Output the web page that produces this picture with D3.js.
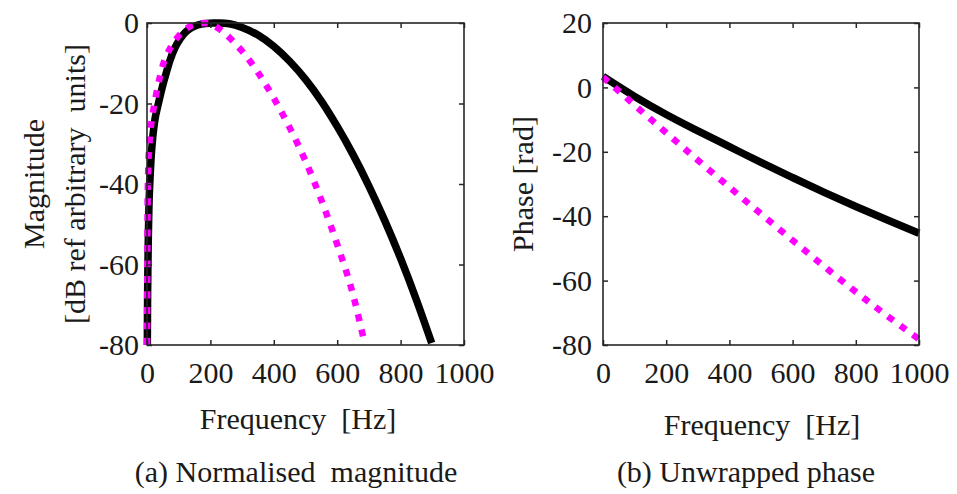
<!DOCTYPE html>
<html>
<head>
<meta charset="utf-8">
<script src="https://cdn.jsdelivr.net/npm/d3@7"></script>
<style>
  html, body { margin: 0; padding: 0; background: #fff; }
  svg { display: block; }
  text { font-family: "Liberation Serif", "Times New Roman", serif; fill: #1a1a1a; white-space: pre; }
</style>
</head>
<body>
<svg id="fig" width="957" height="494"></svg>
<script>
// Frequency axis (Hz) and tick labels shared by both panels
const freqTicks = [0, 200, 400, 600, 800, 1000];
const magTicks = [0, -20, -40, -60, -80];
const phaseTicks = [20, 0, -20, -40, -60, -80];

// Normalised magnitude (dB), [frequency Hz, level dB]
const magBlack = [
  [1, -80], [1.5, -73], [2, -67], [3, -60], [4, -54], [6, -46], [9, -39.5],
  [13, -33.5], [18, -28.5], [25, -24], [33, -21], [41, -18.3], [50, -15.4],
  [60, -12.6], [72, -9.4], [88, -6.2], [105, -3.9], [120, -2.4], [140, -1.2],
  [160, -0.5], [185, -0.1], [210, 0], [230, 0], [260, -0.2], [300, -1.1],
  [350, -3.0], [400, -5.8], [450, -9.5], [500, -14], [550, -19.4],
  [600, -25.7], [650, -32.7], [700, -40.5], [750, -49.1], [800, -58.5],
  [850, -68.8], [898, -79.5]
];
const magMagenta = [
  [0.3, -80], [0.6, -68], [1, -58], [2, -45], [4, -36], [7, -31], [10, -27.5],
  [14, -24.5], [19, -22], [25, -19.4], [30, -17.3], [40, -13.6], [50, -10.5],
  [62, -8], [75, -6], [88, -4.4], [100, -3.2], [115, -2], [130, -1.1],
  [145, -0.5], [160, -0.2], [180, 0], [195, -0.15], [210, -0.6], [225, -1.3],
  [240, -2.2], [270, -4.4], [300, -7], [350, -12.3], [400, -18.7],
  [450, -26], [500, -34.3], [550, -44], [600, -55], [650, -67.5], [682, -78]
];

// Unwrapped phase (rad), [frequency Hz, phase rad]
const phaseBlack = [
  [0, 3.4], [100, -2.8], [200, -8.4], [300, -13.5], [400, -18.4],
  [500, -23.3], [600, -28.0], [700, -32.6], [800, -37.0], [900, -41.2],
  [1000, -45.3]
];
const phaseMagenta = [
  [0, 3.2], [100, -5.5], [200, -14.1], [300, -22.6], [400, -31.0],
  [500, -39.3], [600, -47.5], [700, -55.6], [800, -63.5], [900, -71.0],
  [1000, -78.2]
];

const svg = d3.select("#fig");
const FS = 30;
const axisColor = "#262626";

function panel(opts) {
  const { left, right, top, bottom, yDomain, yTicks, yPad, series, yLabels, xLabelY, caption, captionX, xLabelX } = opts;
  const x = d3.scaleLinear().domain([0, 1000]).range([left, right]);
  const y = d3.scaleLinear().domain(yDomain).range([bottom, top]);
  const g = svg.append("g");

  const clipId = "clip" + Math.round(left);
  svg.append("clipPath").attr("id", clipId)
    .append("rect").attr("x", left - 4).attr("y", top - 4)
    .attr("width", right - left + 8).attr("height", bottom - top + 8);

  const line = d3.line().x(d => x(d[0])).y(d => y(d[1])).curve(d3.curveMonotoneX);
  const plot = g.append("g").attr("clip-path", `url(#${clipId})`);
  series.forEach(s => {
    plot.append("path")
      .attr("d", line(s.data))
      .attr("fill", "none")
      .attr("stroke", s.color)
      .attr("stroke-width", s.width)
      .attr("stroke-dasharray", s.dash || null)
      .attr("stroke-linejoin", "round");
  });

  // Box with inward ticks on all four sides
  const tl = 5;
  g.append("g").attr("transform", `translate(0,${bottom})`)
    .call(d3.axisBottom(x).tickValues(freqTicks).tickSizeInner(-tl).tickSizeOuter(0).tickPadding(17).tickFormat(d3.format("d")))
    .call(a => a.select(".domain").remove());
  g.append("g").attr("transform", `translate(0,${top})`)
    .call(d3.axisTop(x).tickValues(freqTicks).tickSizeInner(-tl).tickSizeOuter(0).tickFormat(""))
    .call(a => a.select(".domain").remove());
  g.append("g").attr("transform", `translate(${left},0)`)
    .call(d3.axisLeft(y).tickValues(yTicks).tickSizeInner(-tl).tickSizeOuter(0).tickPadding(yPad).tickFormat(d => String(d)))
    .call(a => a.select(".domain").remove());
  g.append("g").attr("transform", `translate(${right},0)`)
    .call(d3.axisRight(y).tickValues(yTicks).tickSizeInner(-tl).tickSizeOuter(0).tickFormat(""))
    .call(a => a.select(".domain").remove());
  g.selectAll(".tick line").attr("stroke", axisColor).attr("stroke-width", 1.5);
  g.selectAll(".tick text")
    .style("font-family", '"Liberation Serif", "Times New Roman", serif')
    .style("font-size", FS + "px")
    .attr("fill", "#1a1a1a");
  g.append("rect")
    .attr("x", left).attr("y", top)
    .attr("width", right - left).attr("height", bottom - top)
    .attr("fill", "none").attr("stroke", axisColor).attr("stroke-width", 1.6);

  // Axis titles
  g.append("text").attr("x", xLabelX).attr("y", xLabelY)
    .attr("text-anchor", "middle").style("font-size", FS + "px")
    .text("Frequency  [Hz]");
  yLabels.forEach(l => {
    g.append("text")
      .attr("transform", `translate(${l.x},${(top + bottom) / 2}) rotate(-90)`)
      .attr("text-anchor", "middle").style("font-size", FS + "px")
      .text(l.text);
  });
  g.append("text").attr("x", captionX).attr("y", 482)
    .attr("text-anchor", "middle").style("font-size", FS + "px")
    .text(caption);
}

const magentaDash = "7,8.5";

panel({
  left: 147, right: 464, top: 23, bottom: 345,
  yDomain: [-80, 0], yTicks: magTicks, yPad: 8,
  series: [
    { data: magBlack, color: "#000000", width: 7.5 },
    { data: magMagenta, color: "#ff00ff", width: 6.5, dash: magentaDash }
  ],
  yLabels: [
    { x: 44, text: "Magnitude" },
    { x: 85, text: "[dB ref arbitrary  units]" }
  ],
  xLabelX: 298, xLabelY: 429,
  caption: "(a) Normalised  magnitude", captionX: 296
});

panel({
  left: 603, right: 919, top: 23, bottom: 345,
  yDomain: [-80, 20], yTicks: phaseTicks, yPad: 11,
  series: [
    { data: phaseBlack, color: "#000000", width: 7.5 },
    { data: phaseMagenta, color: "#ff00ff", width: 6.5, dash: magentaDash }
  ],
  yLabels: [
    { x: 533, text: "Phase [rad]" }
  ],
  xLabelX: 762, xLabelY: 435,
  caption: "(b) Unwrapped phase", captionX: 746
});
</script>
</body>
</html>
